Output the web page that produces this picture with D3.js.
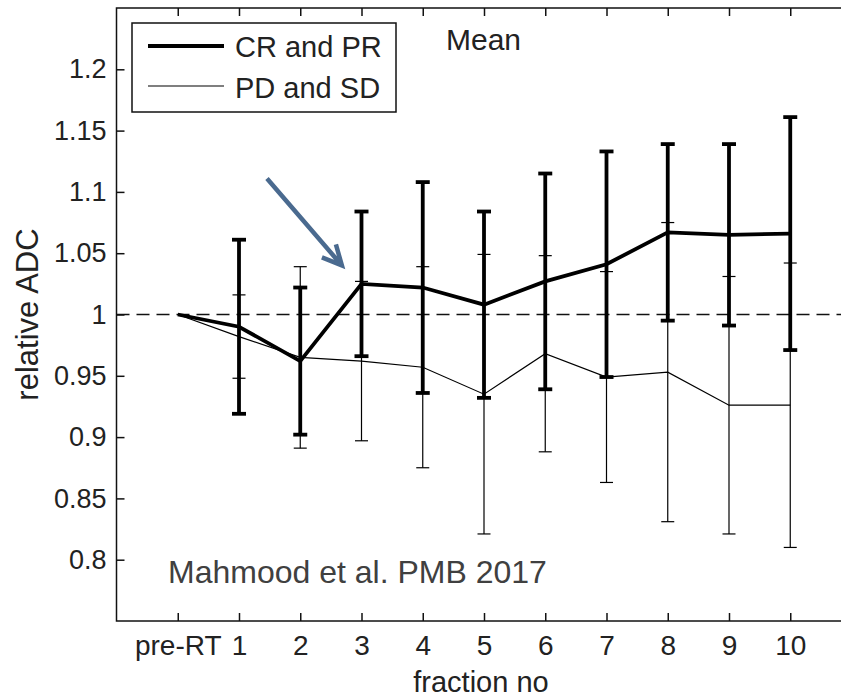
<!DOCTYPE html>
<html>
<head>
<meta charset="utf-8">
<script src="https://cdn.jsdelivr.net/npm/d3@7"></script>
<style>
  body { margin: 0; background: #fff; }
  text { font-family: "Liberation Sans", Arial, Helvetica, sans-serif; }
</style>
</head>
<body>
<svg id="chart" width="841" height="697"></svg>
<script>
// fraction number (pre-RT = 0)
const fractions = [0, 1, 2, 3, 4, 5, 6, 7, 8, 9, 10];
const fractionLabels = ["pre-RT", "1", "2", "3", "4", "5", "6", "7", "8", "9", "10"];
// CR and PR (responders)
const crMean = [1.0, 0.990, 0.962, 1.025, 1.022, 1.008, 1.027, 1.041, 1.067, 1.065, 1.066];
const crSd   = [0, 0.071, 0.060, 0.059, 0.086, 0.076, 0.088, 0.092, 0.072, 0.074, 0.095];
// PD and SD (non-responders)
const pdMean = [1.0, 0.982, 0.965, 0.962, 0.957, 0.935, 0.968, 0.949, 0.953, 0.926, 0.926];
const pdSd   = [0, 0.034, 0.074, 0.065, 0.082, 0.114, 0.080, 0.086, 0.122, 0.105, 0.116];
const yTicks = [0.8, 0.85, 0.9, 0.95, 1, 1.05, 1.1, 1.15, 1.2];
const yTickLabels = ["0.8", "0.85", "0.9", "0.95", "1", "1.05", "1.1", "1.15", "1.2"];

let mLeft = 116.5, mRight = 851.5, mTop = 8, mBottom = 621;

const svg = d3.select("#chart");

var x = d3.scaleLinear().domain([-1, 11]).range([mLeft, mRight]);
var y = d3.scaleLinear().domain([0.75, 1.25]).range([mBottom, mTop]);

// axes, ticks pointing inwards like matlab
svg.append("g")
  .attr("transform", "translate(" + mLeft + ",0)")
  .call(d3.axisLeft(y).tickValues(yTicks).tickFormat((d, i) => yTickLabels[i])
    .tickSizeInner(-8).tickSizeOuter(0).tickPadding(10))
  .call(g => g.select(".domain").remove())
  .call(g => g.selectAll("line").attr("stroke", "#111").attr("stroke-width", 1.5))
  .call(g => g.selectAll("text").attr("font-size", 27).attr("fill", "#222")
    .attr("font-family", "Liberation Sans, Arial, sans-serif"));

svg.append("g")
  .attr("transform", "translate(0," + mBottom + ")")
  .call(d3.axisBottom(x).tickValues(fractions).tickFormat((d, i) => fractionLabels[i])
    .tickSizeInner(-8).tickSizeOuter(0).tickPadding(0))
  .call(g => g.select(".domain").remove())
  .call(g => g.selectAll("line").attr("stroke", "#111").attr("stroke-width", 1.5))
  .call(g => g.selectAll("text").attr("font-size", 28).attr("fill", "#222")
    .attr("dy", null).attr("y", 34)
    .attr("font-family", "Liberation Sans, Arial, sans-serif"));

svg.append("g")
  .attr("transform", "translate(0," + mTop + ")")
  .call(d3.axisTop(x).tickValues(fractions).tickFormat("")
    .tickSizeInner(-8).tickSizeOuter(0))
  .call(g => g.select(".domain").remove())
  .call(g => g.selectAll("line").attr("stroke", "#111").attr("stroke-width", 1.5));

// box
svg.append("rect")
  .attr("x", mLeft).attr("y", mTop)
  .attr("width", mRight - mLeft).attr("height", mBottom - mTop)
  .attr("fill", "none").attr("stroke", "#111").attr("stroke-width", 1.5);

// dashed reference at 1
svg.append("line")
  .attr("x1", mLeft).attr("x2", mRight)
  .attr("y1", y(1)).attr("y2", y(1))
  .attr("stroke", "#111").attr("stroke-width", 1.6)
  .attr("stroke-dasharray", "13,7");

function drawSeries(mean, sd, width, capW) {
  var g = svg.append("g");
  var pts = fractions.map((f, i) => ({ f: f, m: mean[i], s: sd[i] }));
  g.append("path")
    .datum(pts)
    .attr("fill", "none")
    .attr("stroke", "#000")
    .attr("stroke-width", width)
    .attr("d", d3.line().x(d => x(d.f)).y(d => y(d.m)));
  var bars = g.selectAll(".eb").data(pts.filter(d => d.s > 0)).enter().append("g");
  bars.append("line")
    .attr("x1", d => x(d.f)).attr("x2", d => x(d.f))
    .attr("y1", d => y(d.m - d.s)).attr("y2", d => y(d.m + d.s))
    .attr("stroke", "#000").attr("stroke-width", width);
  [1, -1].forEach(k => {
    bars.append("line")
      .attr("x1", d => x(d.f) - capW / 2).attr("x2", d => x(d.f) + capW / 2)
      .attr("y1", d => y(d.m + k * d.s)).attr("y2", d => y(d.m + k * d.s))
      .attr("stroke", "#000").attr("stroke-width", width);
  });
}
drawSeries(pdMean, pdSd, 1.2, 13);
drawSeries(crMean, crSd, 3.8, 14);

// legend
svg.append("rect")
  .attr("x", 132).attr("y", 23).attr("width", 264).attr("height", 89)
  .attr("fill", "#fff").attr("stroke", "#111").attr("stroke-width", 1.5);
svg.append("line").attr("x1", 148).attr("x2", 224).attr("y1", 46).attr("y2", 46)
  .attr("stroke", "#000").attr("stroke-width", 3.8);
svg.append("line").attr("x1", 148).attr("x2", 224).attr("y1", 86).attr("y2", 86)
  .attr("stroke", "#000").attr("stroke-width", 1.2);
svg.append("text").attr("x", 235).attr("y", 57).attr("font-size", 29).attr("fill", "#222").text("CR and PR");
svg.append("text").attr("x", 235).attr("y", 98).attr("font-size", 29).attr("fill", "#222").text("PD and SD");

svg.append("text").attr("x", 446).attr("y", 50).attr("font-size", 30).attr("fill", "#222").text("Mean");

// axis titles
svg.append("text")
  .attr("x", (mLeft + mRight) / 2 - 3).attr("y", 692)
  .attr("text-anchor", "middle").attr("font-size", 29).attr("fill", "#222")
  .text("fraction no");
svg.append("text")
  .attr("transform", "translate(38," + y(1) + ")rotate(-90)")
  .attr("text-anchor", "middle").attr("font-size", 31).attr("fill", "#222")
  .text("relative ADC");

// citation
svg.append("text").attr("x", 168).attr("y", 583)
  .attr("font-size", 32).attr("fill", "#404040")
  .attr("font-family", "Arial, Liberation Sans, sans-serif")
  .text("Mahmood et al. PMB 2017");

// arrow pointing at fraction 3
var a0 = [x(1.457), y(1.111)], a1 = [x(2.68), y(1.040)];
svg.append("path")
  .attr("d", "M" + a0 + "L" + a1 + "M" + [a1[0] - 20, a1[1] - 8] + "L" + a1 + "L" + [a1[0] - 6, a1[1] - 21])
  .attr("fill", "none").attr("stroke", "#4a6a8f").attr("stroke-width", 4.5)
  .attr("stroke-linejoin", "miter");
</script>
</body>
</html>
